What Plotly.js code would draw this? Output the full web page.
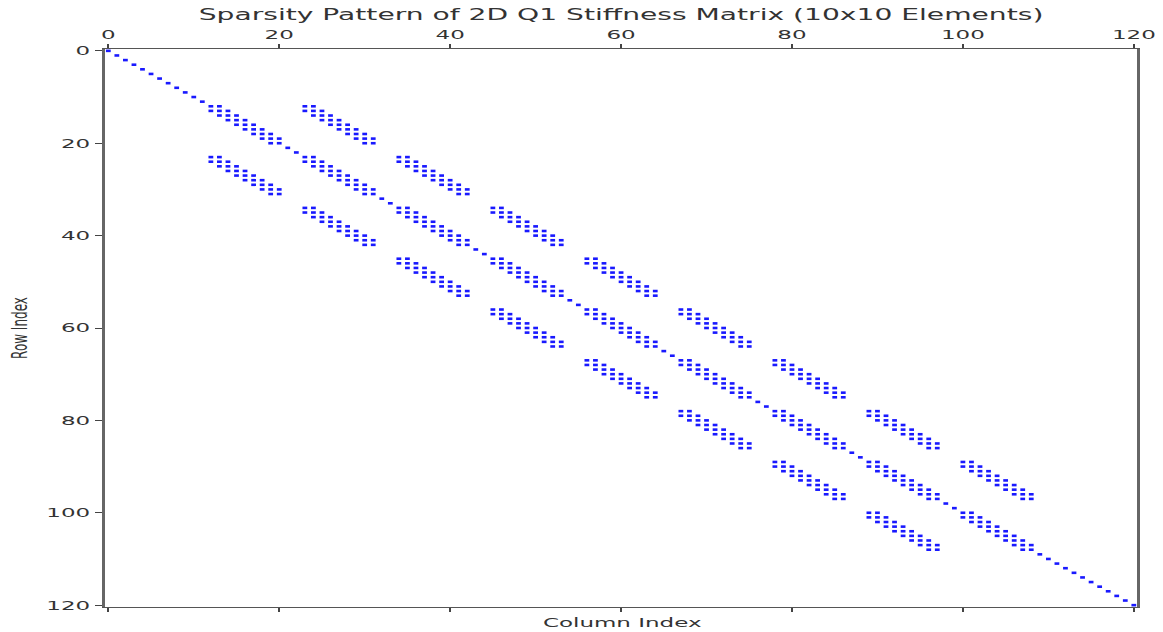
<!DOCTYPE html>
<html>
<head>
<meta charset="utf-8">
<script src="https://cdn.plot.ly/plotly-3.0.1.min.js"></script>
<style>
  html, body { margin: 0; padding: 0; background: #ffffff; overflow: hidden; }
  #chart { width: 632px; height: 632px; transform: scaleX(1.8402); transform-origin: 0 0; }
</style>
</head>
<body>
<div id="chart"></div>
<script>
// Matrix size: 10x10 Q1 elements -> 11x11 nodes -> 121 DOFs (indices 0..120)
const matrixSize = 121;

// Rows that only hold a diagonal entry (boundary nodes)
const diagonalOnlyRows = [
  0, 1, 2, 3, 4, 5, 6, 7, 8, 9, 10, 11,
  21, 22, 32, 33, 43, 44, 54, 55, 65, 66, 76, 77, 87, 88, 98, 99,
  109, 110, 111, 112, 113, 114, 115, 116, 117, 118, 119, 120
];

// Runs of coupled (interior) rows/columns
const coupledRunStarts = [12, 23, 34, 45, 56, 67, 78, 89, 100];
const coupledRunEnds   = [20, 31, 42, 53, 64, 75, 86, 97, 108];

// Block offsets (between runs) and band offsets (inside a block) seen in the picture
const blockOffsets = [-11, 0, 11];
const bandOffsets  = [-1, 0, 1];

// Tick values
const tickValues = [0, 20, 40, 60, 80, 100, 120];

// ---- build nonzero list ----
const coupled = new Set();
coupledRunStarts.forEach((s, k) => { for (let i = s; i <= coupledRunEnds[k]; i++) coupled.add(i); });

const rows = [], cols = [];
diagonalOnlyRows.forEach(r => { rows.push(r); cols.push(r); });
coupled.forEach(r => {
  blockOffsets.forEach(b => {
    bandOffsets.forEach(d => {
      const c = r + b + d;
      if (coupled.has(c)) { rows.push(r); cols.push(c); }
    });
  });
});

const font = "DejaVu Sans, Arial, sans-serif";

const trace = {
  type: 'scatter',
  mode: 'markers',
  x: cols,
  y: rows,
  marker: { symbol: 'square', size: 2.6, color: '#0000ff', opacity: 0.9, line: { width: 0 } },
  hoverinfo: 'x+y',
  cliponaxis: false
};

const layout = {
  width: 632,
  height: 632,
  margin: { l: 57, r: 14, t: 49, b: 25 },
  paper_bgcolor: '#ffffff',
  plot_bgcolor: '#ffffff',
  showlegend: false,
  title: {
    text: 'Sparsity Pattern of 2D Q1 Stiffness Matrix (10x10 Elements)',
    font: { family: font, size: 15.3, color: '#333333' },
    x: 0.5, xanchor: 'center', xref: 'paper',
    y: 1 - 15 / 632, yanchor: 'middle', yref: 'container'
  },
  xaxis: {
    side: 'top',
    range: [-0.4, 120.4],
    tickvals: tickValues,
    ticktext: tickValues.map(String),
    ticks: 'outside', ticklen: 4, tickwidth: 1, tickcolor: '#444',
    showline: true, linecolor: '#555', linewidth: 1.2,
    mirror: 'ticks',
    showgrid: false, zeroline: false,
    tickfont: { family: font, size: 12.5, color: '#333' }
  },
  yaxis: {
    range: [120.4, -0.4],
    tickvals: tickValues,
    ticktext: tickValues.map(String),
    ticks: 'outside', ticklen: 4, tickwidth: 1, tickcolor: '#444',
    showline: true, linecolor: '#666', linewidth: 1.5,
    mirror: true,
    showgrid: false, zeroline: false,
    tickfont: { family: font, size: 12.5, color: '#333' },
    title: { text: 'Row Index', font: { family: font, size: 12, color: '#333' }, standoff: 7 }
  },
  annotations: [{
    text: 'Column Index',
    xref: 'paper', yref: 'paper',
    x: 0.5, y: 0, xanchor: 'center', yanchor: 'top',
    yshift: -6,
    showarrow: false,
    font: { family: font, size: 12.5, color: '#333' }
  }]
};

Plotly.newPlot('chart', [trace], layout, { displayModeBar: false, staticPlot: true });
</script>
</body>
</html>
